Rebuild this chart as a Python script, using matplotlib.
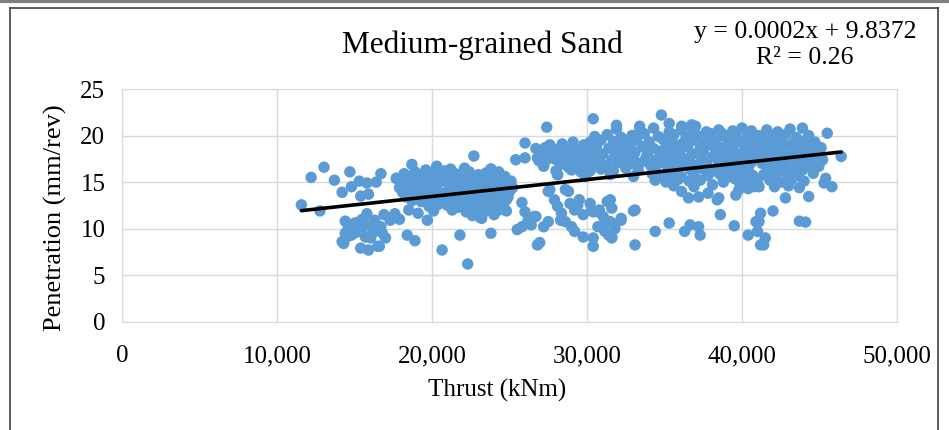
import matplotlib.pyplot as plt
from matplotlib.lines import Line2D
from matplotlib.ticker import FuncFormatter

# sparse points (thrust kNm, penetration mm/rev)
left_pts = [(11570, 12.55), (12770, 11.9), (12200, 15.5), (13030, 16.6), (13700, 15.2), (14200, 13.9),
            (14700, 16.1), (14800, 14.5), (15300, 15.1), (15800, 14.9), (16400, 15.0), (16700, 15.9),
            (15400, 13.5), (15900, 13.7), (14400, 10.8), (15300, 10.75), (15800, 11.6), (16300, 10.9),
            (16900, 11.5), (16700, 10.2), (17300, 10.9), (17900, 11.0), (14200, 8.6), (14400, 9.5),
            (14800, 9.3), (15000, 9.9), (15400, 7.9), (15900, 7.7), (16050, 9.0), (16500, 8.1),
            (17000, 9.0), (18400, 9.3), (18900, 8.7), (19700, 10.9), (18500, 12.0), (19100, 11.65),
            (17700, 15.4), (20650, 7.7), (14300, 8.4), (14500, 9.1), (15700, 9.1), (16600, 8.1),
            (17350, 11.1), (14600, 10.2), (15100, 9.6), (15600, 10.2), (16200, 9.6), (16800, 9.5),
            (15500, 11.0), (16000, 10.4), (17600, 11.6), (15000, 10.6)]

mid_pts = [(22700, 17.8), (20300, 16.7), (23800, 16.4), (24400, 15.8), (23200, 11.1), (21800, 9.3),
           (23800, 9.5), (22300, 6.2), (25400, 17.4), (26000, 17.6), (26000, 19.2), (27400, 20.9),
           (30400, 21.8), (26800, 17.6), (27200, 16.7), (28100, 15.8),
           (25800, 12.8), (26000, 11.8), (25800, 10.2), (26200, 10.9), (26700, 11.3), (27600, 14.2),
           (27900, 13.1), (28600, 14.2), (28100, 12.4), (28350, 11.65), (28900, 12.7), (29200, 12.0),
           (29500, 13.1), (29750, 11.5), (30200, 12.7), (30400, 11.8), (30800, 12.0), (31300, 12.9),
           (31500, 13.1), (31050, 11.3), (30700, 10.2), (31500, 10.75), (31800, 10.4), (32200, 11.1),
           (31150, 9.7), (31600, 9.1), (30400, 9.0), (29750, 9.1), (29200, 9.7), (28600, 10.75),
           (27500, 10.75), (27200, 10.2), (26800, 8.25), (26950, 8.5), (33100, 12.0), (33100, 8.25),
           (25500, 9.9), (26400, 10.4), (26600, 11.3), (28300, 10.9), (29000, 10.2), (30400, 8.1),
           (27500, 14.0), (28800, 14.0), (29400, 12.5), (30300, 12.0), (30700, 11.8), (31400, 12.9),
           (31600, 12.2), (31150, 10.75), (32200, 10.9), (31800, 10.0), (31400, 9.3), (31600, 9.0)]

right_pts = [(34400, 9.7), (35300, 10.6), (36300, 9.7), (37200, 10.2), (38600, 11.5), (38400, 13.1),
             (39500, 10.3), (36650, 10.4), (37300, 9.3), (33000, 11.9), (40400, 9.3), (41100, 10.75),
             (41000, 9.7), (41200, 8.25), (36100, 14.0), (36550, 13.3), (37200, 13.4), (37800, 13.8),
             (38500, 13.3), (39600, 13.6), (39800, 14.2), (40400, 14.3), (41100, 14.5), (42000, 11.9),
             (41200, 11.65), (40900, 10.75), (41500, 9.0), (41400, 8.25), (43700, 10.8), (44100, 10.7),
             (42800, 13.3), (44300, 13.45), (45300, 14.9), (45800, 14.5), (45400, 15.4), (44960, 16.7),
             (44600, 15.95), (43900, 20.8), (45500, 20.25), (46400, 17.75), (31900, 21.1), (33400, 21.0),
             (34800, 22.2), (36100, 21.0), (36750, 21.15), (35300, 21.3), (37000, 21.0), (38700, 20.25)]

# dense cloud around 18,000-25,000
cluster_a = [(18700, 16.9), (20300, 16.6), (21200, 16.4), (22100, 16.5), (23800, 16.4), (24300, 16.1), (19600, 16.3),
             (18200, 15.9), (18900, 16.1), (19500, 15.8), (20100, 16.0), (20800, 16.2), (21500, 15.9), (22400, 16.1),
             (23000, 15.8), (23500, 16.0), (24400, 15.7),
             (17700, 15.4), (18400, 15.6), (19100, 15.4), (19700, 15.5), (20400, 15.6), (21000, 15.3), (21700, 15.5),
             (22300, 15.6), (22900, 15.4), (23600, 15.5), (24100, 15.3), (24700, 15.6),
             (18000, 14.9), (18600, 15.1), (19300, 14.9), (19900, 15.0), (20600, 15.1), (21300, 14.8), (21900, 15.0),
             (22600, 15.2), (23200, 14.9), (23900, 15.0), (24500, 14.8), (25100, 15.1),
             (17900, 14.4), (18500, 14.6), (19200, 14.5), (19800, 14.3), (20300, 14.6), (21100, 14.5), (21600, 14.4),
             (22200, 14.6), (22800, 14.4), (23400, 14.5), (24000, 14.3), (24600, 14.6), (25200, 14.4),
             (18100, 13.9), (18800, 14.1), (19400, 13.9), (20000, 14.0), (20700, 13.8), (21400, 14.1), (22000, 13.9),
             (22700, 14.0), (23300, 13.8), (23800, 14.1), (24400, 13.9), (25000, 14.0),
             (18300, 13.4), (19000, 13.6), (19600, 13.4), (20200, 13.5), (20900, 13.3), (21500, 13.6), (22100, 13.4),
             (22500, 13.5), (23100, 13.6), (23700, 13.3), (24300, 13.5), (24900, 13.4),
             (18700, 13.0), (19300, 12.9), (20000, 13.1), (20500, 12.9), (21200, 13.0), (21800, 12.8), (22400, 13.1),
             (23000, 12.9), (23600, 13.0), (24200, 12.8), (24800, 13.1),
             (19800, 12.4), (20400, 12.6), (21000, 12.5), (21700, 12.3), (22300, 12.6), (22900, 12.4), (23500, 12.5),
             (24100, 12.3), (24600, 12.6),
             (20100, 11.9), (21300, 12.0), (22200, 11.8), (22800, 12.1), (23500, 11.9), (24300, 12.0),
             (22600, 11.4), (23100, 11.2), (24000, 11.5), (24800, 11.9)]

# dense cloud from 26,500 to 46,000
cluster_b = [(28400, 19.1), (29100, 19.3), (29800, 19.0), (27600, 19.0),
             (26700, 18.6), (27300, 18.7), (27800, 18.5), (28300, 18.7), (28900, 18.6), (29500, 18.4), (30100, 18.7),
             (27000, 18.1), (27600, 17.9), (28100, 18.0), (28700, 18.2), (29300, 17.9), (29900, 18.1),
             (26900, 17.3), (27500, 17.5), (28000, 17.4), (28500, 17.2), (29100, 17.5), (29700, 17.3), (30300, 17.4),
             (27200, 16.8), (28300, 16.9), (28800, 16.6), (29400, 16.8), (30000, 16.7),
             (28000, 16.2), (29000, 16.3), (29600, 16.1), (30200, 16.2), (28100, 15.8), (29900, 15.6),
             (31900, 20.7), (33400, 20.5), (34300, 20.8), (35300, 20.4), (36100, 20.6), (36800, 20.7), (37700, 20.4),
             (38500, 20.6), (39400, 20.5), (40000, 20.8), (40600, 20.5),
             (30500, 19.9), (31300, 20.1), (32200, 19.8), (32900, 20.0), (33700, 20.2), (34600, 19.9), (35600, 20.1),
             (36400, 19.8), (37100, 20.0), (38000, 20.2), (38900, 19.9), (39600, 20.1), (40300, 19.8), (41000, 20.0),
             (30200, 19.3), (30900, 19.5), (31700, 19.4), (32500, 19.2), (33200, 19.5), (34000, 19.3), (34900, 19.6),
             (35500, 19.4), (36200, 19.2), (36900, 19.5), (37600, 19.3), (38300, 19.4), (39100, 19.6), (39800, 19.3),
             (40500, 19.5),
             (30600, 18.8), (31400, 18.6), (32100, 18.9), (32800, 18.7), (33600, 18.8), (34300, 18.6), (35100, 18.9),
             (35800, 18.7), (36500, 18.8), (37300, 18.6), (38100, 18.9), (38700, 18.7), (39400, 18.8), (40200, 18.6),
             (40900, 18.9),
             (30300, 18.2), (31000, 18.0), (31800, 18.3), (32400, 18.1), (33100, 18.2), (33900, 18.0), (34700, 18.3),
             (35400, 18.1), (36000, 18.2), (36800, 18.0), (37500, 18.3), (38300, 18.1), (39000, 18.2), (39700, 18.0),
             (40400, 18.3),
             (30800, 17.6), (31600, 17.4), (32300, 17.7), (33000, 17.5), (33800, 17.6), (34500, 17.4), (35200, 17.7),
             (35900, 17.5), (36600, 17.6), (37400, 17.4), (38100, 17.7), (38800, 17.5), (39500, 17.6), (40100, 17.4),
             (40800, 17.7),
             (30400, 17.0), (31200, 16.8), (32000, 17.1), (32700, 16.9), (33400, 17.0), (34100, 16.8), (34900, 17.1),
             (35600, 16.9), (36300, 17.0), (37000, 16.8), (37700, 17.1), (38500, 16.9), (39200, 17.0), (39900, 16.8),
             (40600, 17.1),
             (30900, 16.4), (31700, 16.2), (32500, 16.5), (33300, 16.3), (34400, 16.4), (35200, 16.2), (35800, 16.5),
             (36700, 16.3), (37500, 16.4), (38200, 16.2), (39000, 16.5), (39700, 16.3), (40400, 16.4),
             (31500, 15.8), (33000, 15.6), (34200, 15.9), (34800, 15.7), (35500, 15.8), (36100, 15.6), (36900, 15.9),
             (37800, 15.7), (38600, 15.8), (39300, 15.6), (40000, 15.9), (40700, 15.7),
             (34400, 15.2), (35100, 15.0), (35900, 15.3), (36600, 15.1), (37300, 15.2), (38800, 15.0), (39600, 15.3),
             (40300, 15.1), (41000, 15.2),
             (35600, 14.6), (36900, 14.5), (38100, 14.7), (39900, 14.6), (40800, 14.5),
             (41600, 20.6), (42300, 20.4), (43100, 20.7), (41300, 20.0), (42000, 19.9), (42800, 20.1), (43500, 19.8),
             (44300, 20.0),
             (41100, 19.4), (41800, 19.3), (42500, 19.5), (43300, 19.2), (44000, 19.4), (44700, 19.3),
             (41500, 18.8), (42200, 18.7), (42900, 18.9), (43700, 18.6), (44400, 18.8), (45100, 18.7),
             (41200, 18.2), (41900, 18.0), (42600, 18.3), (43400, 18.1), (44100, 18.2), (44800, 18.0),
             (41600, 17.6), (42300, 17.4), (43000, 17.7), (43800, 17.5), (44500, 17.6), (45200, 17.4),
             (41300, 17.0), (42000, 16.8), (42700, 17.1), (43500, 16.9), (44200, 17.0),
             (41700, 16.4), (42400, 16.2), (43100, 16.5), (43900, 16.3), (44600, 16.4),
             (41400, 15.8), (42100, 15.6), (42900, 15.9), (43600, 15.7),
             (41800, 15.2), (42500, 15.0), (43200, 15.3), (44000, 15.1),
             (42100, 14.5), (43000, 14.6), (43700, 14.4)]

# excel linear trendline
trend_slope = 0.000181
trend_intercept = 9.8372
trend_x = [11570, 46400]
eq_text = "y = 0.0002x + 9.8372\nR² = 0.26"

points = left_pts + mid_pts + right_pts + cluster_a + cluster_b
thrust = [p[0] for p in points]
penetration = [p[1] for p in points]

plt.rcParams['font.family'] = ['Liberation Serif', 'DejaVu Serif']

fig = plt.figure(figsize=(9.49, 4.30), dpi=100)
ax = fig.add_axes([0.1286, 0.2519, 0.8166, 0.5411])

ax.scatter(thrust, penetration, s=68, color='#5B9BD5', edgecolors='none', zorder=3)
ax.plot(trend_x, [trend_slope * v + trend_intercept for v in trend_x], color='black', lw=2.6,
        solid_capstyle='round', zorder=4)

ax.set_xlim(0, 50000)
ax.set_ylim(0, 25)
ax.set_xticks(range(0, 50001, 10000))
ax.set_yticks(range(0, 26, 5))
ax.xaxis.set_major_formatter(FuncFormatter(lambda v, p: f"{int(v):,}"))
ax.grid(True, color='#D9D9D9', lw=1)
ax.set_axisbelow(True)
for s in ax.spines.values():
    s.set_color('#D9D9D9')
ax.tick_params(length=0, labelsize=18, colors='black')
ax.tick_params(axis='x', pad=17)
ax.tick_params(axis='y', pad=12)

fig.text(0.508, 0.895, "Medium-grained Sand", ha='center', va='center', fontsize=22.5)
fig.text(0.848, 0.895, eq_text, ha='center', va='center', fontsize=18.5, linespacing=1.2)
fig.text(0.524, 0.093, "Thrust (kNm)", ha='center', va='center', fontsize=18)
fig.text(0.058, 0.493, "Penetration (mm/rev)", ha='center', va='center', rotation=90, fontsize=19)

# outer chart frame
fig.add_artist(Line2D([0, 1], [0.997, 0.997], color='#808080', lw=3, transform=fig.transFigure))
fig.add_artist(Line2D([0.0105, 0.0105], [0, 0.981], color='#404040', lw=1.2, transform=fig.transFigure))
fig.add_artist(Line2D([0.0105, 0.988], [0.981, 0.981], color='#404040', lw=1.2, transform=fig.transFigure))
fig.add_artist(Line2D([0.988, 0.988], [0, 0.981], color='#404040', lw=1.2, transform=fig.transFigure))

fig.savefig('out.png', dpi=100)
